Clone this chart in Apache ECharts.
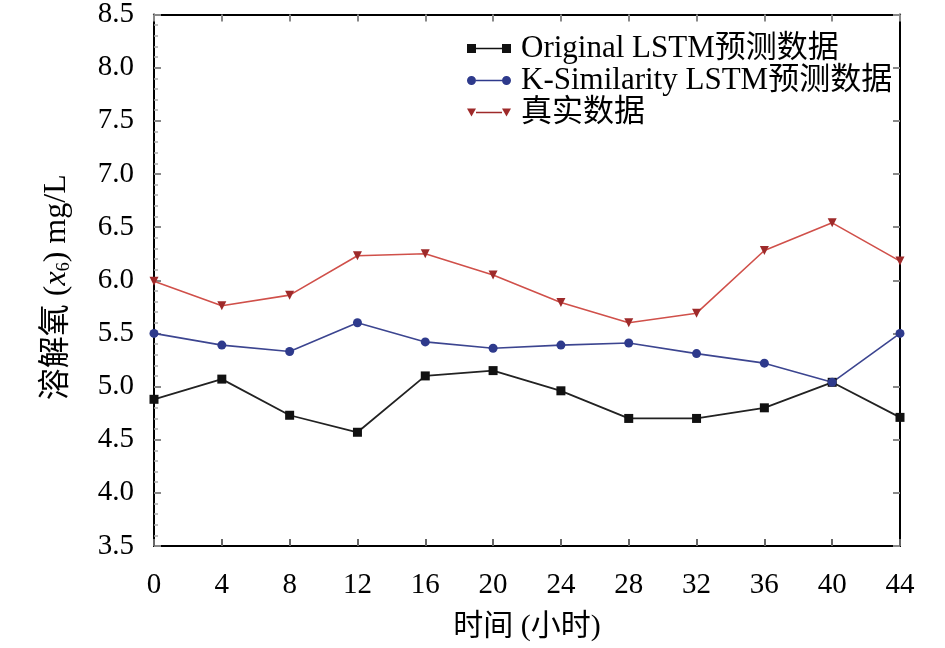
<!DOCTYPE html>
<html>
<head>
<meta charset="utf-8">
<script src="https://cdn.jsdelivr.net/npm/echarts@6/dist/echarts.min.js"></script>
<style>
html, body { margin: 0; padding: 0; background: #fff; }
#main { width: 945px; height: 648px; }
</style>
</head>
<body>
<div id="main"></div>
<script>
var hours = ['0', '4', '8', '12', '16', '20', '24', '28', '32', '36', '40', '44'];
var originalLstm = [4.88, 5.07, 4.73, 4.57, 5.10, 5.15, 4.96, 4.70, 4.70, 4.80, 5.04, 4.71];
var kSimilarityLstm = [5.50, 5.39, 5.33, 5.60, 5.42, 5.36, 5.39, 5.41, 5.31, 5.22, 5.04, 5.50];
var realData = [5.99, 5.76, 5.86, 6.23, 6.25, 6.05, 5.79, 5.60, 5.69, 6.28, 6.54, 6.18];

var serif = '"Liberation Serif", "Times New Roman", "Noto Sans CJK SC", serif';

var dom = document.getElementById('main');
var myChart = echarts.init(dom);

// legend icons: marker - line - marker
var iconSquare = 'path://M0,0.5h9v9h-9z M9,4.2h26v1.6h-26z M35,0.5h9v9h-9z';
var iconCircle = 'path://M0,5a4.5,4.5 0 1,0 9,0a4.5,4.5 0 1,0 -9,0z M9,4.2h26v1.6h-26z M35,5a4.5,4.5 0 1,0 9,0a4.5,4.5 0 1,0 -9,0z';
var iconTri = 'path://M0,1h9l-4.5,8z M9,4.2h26v1.6h-26z M35,1h9l-4.5,8z';

var axisBase = {
    axisLine: { show: true, onZero: false, lineStyle: { color: '#000', width: 2 } },
    splitLine: { show: false }
};

option = {
    backgroundColor: '#fff',
    animation: false,
    grid: { left: 154, right: 45, top: 14, bottom: 102 },
    legend: {
        orient: 'vertical',
        left: 462,
        top: 28,
        itemWidth: 44,
        itemHeight: 10,
        itemGap: 1,
        textStyle: { fontFamily: serif, fontSize: 31, lineHeight: 31, color: '#000', padding: [0, 0, 0, 5] },
        data: [
            { name: 'Original LSTM预测数据', icon: iconSquare },
            { name: 'K-Similarity LSTM预测数据', icon: iconCircle },
            { name: '真实数据', icon: iconTri }
        ]
    },
    xAxis: [
        Object.assign({
            type: 'category',
            data: hours,
            boundaryGap: false,
            name: '时间 (小时)',
            nameLocation: 'middle',
            nameGap: 66,
            nameTextStyle: { fontFamily: serif, fontSize: 30, color: '#000' },
            axisTick: { show: true, inside: true, length: 7, lineStyle: { color: '#666', width: 2 } },
            axisLabel: { fontFamily: serif, fontSize: 29, color: '#000', margin: 25 }
        }, axisBase),
        Object.assign({
            type: 'category',
            data: hours,
            boundaryGap: false,
            position: 'top',
            axisTick: { show: true, inside: true, length: 7, lineStyle: { color: '#888', width: 2 } },
            axisLabel: { show: false }
        }, axisBase)
    ],
    yAxis: [
        Object.assign({
            type: 'value',
            min: 3.5,
            max: 8.5,
            interval: 0.5,
            name: '溶解氧 ({i|x}{s|6}) mg/L',
            nameLocation: 'middle',
            nameGap: 81,
            nameTextStyle: {
                fontFamily: serif, fontSize: 32, color: '#000', padding: [0, 14, 0, 0],
                rich: {
                    i: { fontFamily: serif, fontSize: 32, fontStyle: 'italic', color: '#000' },
                    s: { fontFamily: serif, fontSize: 18, color: '#000', verticalAlign: 'bottom', padding: [14, 0, 0, 0] }
                }
            },
            axisTick: { show: true, inside: true, length: 7, lineStyle: { color: '#888', width: 2 } },
            minorTick: { show: true, splitNumber: 5, length: 4, lineStyle: { color: '#aaa', width: 1.5 } },
            axisLabel: {
                fontFamily: serif, fontSize: 29, color: '#000', margin: 20,
                formatter: function (v) { return v.toFixed(1); }
            }
        }, axisBase),
        Object.assign({
            type: 'value',
            min: 3.5,
            max: 8.5,
            interval: 0.5,
            position: 'right',
            axisTick: { show: true, inside: true, length: 7, lineStyle: { color: '#888', width: 2 } },
            axisLabel: { show: false }
        }, axisBase)
    ],
    series: [
        {
            name: 'Original LSTM预测数据',
            type: 'line',
            data: originalLstm,
            symbol: 'rect',
            symbolSize: 9,
            color: '#111',
            lineStyle: { color: '#222', width: 1.8 },
            itemStyle: { color: '#111' }
        },
        {
            name: 'K-Similarity LSTM预测数据',
            type: 'line',
            data: kSimilarityLstm,
            symbol: 'circle',
            symbolSize: 9,
            color: '#2e3a8c',
            lineStyle: { color: '#3c4590', width: 1.6 },
            itemStyle: { color: '#2e3a8c' }
        },
        {
            name: '真实数据',
            type: 'line',
            data: realData,
            symbol: 'triangle',
            symbolRotate: 180,
            symbolSize: 9,
            color: '#b3302c',
            lineStyle: { color: '#d0504a', width: 1.6 },
            itemStyle: { color: '#9e2a2a' }
        }
    ]
};

if (option && typeof option === 'object') {
    myChart.setOption(option, true);
}
</script>
</body>
</html>
